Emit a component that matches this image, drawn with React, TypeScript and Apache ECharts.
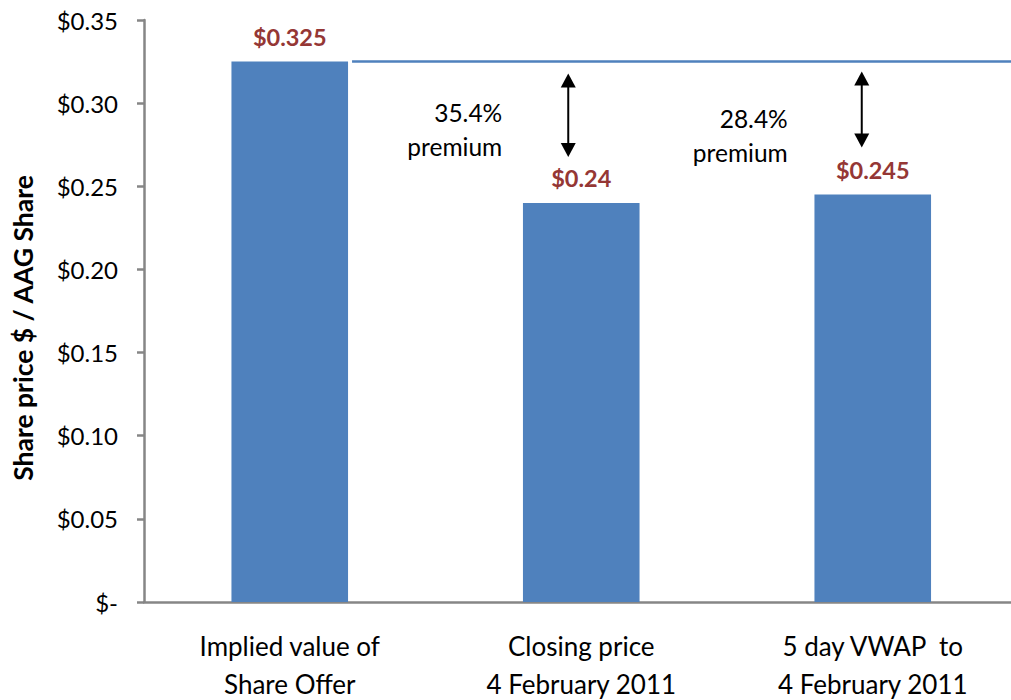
import React, { useEffect, useRef } from "react";
import * as echarts from "echarts";

const categories = [
  "Implied value of\nShare Offer",
  "Closing price\n4 February 2011",
  "5 day VWAP  to\n4 February 2011",
];
const values = [0.325, 0.24, 0.245];
const valueLabels = ["$0.325", "$0.24", "$0.245"];
const premiumLabels = ["35.4%", "28.4%"];
const yTicks = { min: 0, max: 0.35, interval: 0.05 };
const yAxisTitle = "Share price $ / AAG Share";

const FONT = "Lato, 'Noto Sans', sans-serif";
const BAR = "#4F81BD";
const LABEL_RED = "#953735";
const AXIS = "#868686";

export default function App() {
  const ref = useRef<HTMLDivElement>(null);
  useEffect(() => {
    if (!ref.current) return;
    const chart = echarts.init(ref.current, undefined, { renderer: "svg" });
    chart.setOption({
      animation: false,
      grid: {
        left: 144,
        top: 20,
        width: 874.5,
        bottom: 98,
        containLabel: false,
        outerBoundsMode: "none",
      },
      xAxis: {
        type: "category",
        data: categories,
        axisLine: { lineStyle: { color: AXIS, width: 2.5 } },
        axisTick: { length: 9, lineStyle: { color: AXIS, width: 2.5 } },
        axisLabel: {
          interval: 0,
          margin: 25,
          lineHeight: 38,
          fontFamily: FONT,
          fontSize: 26,
          color: "#000",
        },
      },
      yAxis: {
        type: "value",
        min: yTicks.min,
        max: yTicks.max,
        interval: yTicks.interval,
        splitLine: { show: false },
        axisLine: { show: true, lineStyle: { color: AXIS, width: 2.5 } },
        axisTick: { show: true, length: 7, lineStyle: { color: AXIS, width: 2.5 } },
        axisLabel: {
          margin: 26,
          fontFamily: FONT,
          fontSize: 24,
          color: "#000",
          formatter: (v: number) => (v === 0 ? "$-" : "$" + v.toFixed(2)),
        },
      },
      series: [
        {
          type: "bar",
          data: values,
          barWidth: "40%",
          itemStyle: { color: BAR },
          label: {
            show: true,
            position: "top",
            distance: 13,
            formatter: (p: any) => valueLabels[p.dataIndex],
            fontFamily: FONT,
            fontSize: 23.5,
            fontWeight: "bold",
            color: LABEL_RED,
          },
        },
      ],
    });

    const px = (i: number, v: number) =>
      chart.convertToPixel({ gridIndex: 0 }, [i, v]) as number[];
    const [c0, yTop] = px(0, values[0]);
    const catW = px(1, 0)[0] - c0;
    const barHalf = (catW * 0.4) / 2;
    const graphics: any[] = [
      {
        type: "line",
        shape: { x1: c0 + barHalf + 4, y1: yTop, x2: 1011, y2: yTop },
        style: { stroke: BAR, lineWidth: 2.5 },
      },
      {
        type: "text",
        x: 23,
        y: 328,
        rotation: Math.PI / 2,
        style: {
          text: yAxisTitle,
          align: "center",
          verticalAlign: "middle",
          fontFamily: FONT,
          fontSize: 26.5,
          fontWeight: "bold",
          fill: "#000",
        },
      },
    ];
    const arrowOffsets = [
      { dx: -13, top: 12, bottom: 46, textDx: -79, textDy: 68 },
      { dx: -11, top: 10, bottom: 47, textDx: -85, textDy: 74 },
    ];
    [1, 2].forEach((ci, k) => {
      const [cx, yv] = px(ci, values[ci]);
      const o = arrowOffsets[k];
      const ax = cx + o.dx;
      const t = yTop + o.top;
      const b = yv - o.bottom;
      const ah = 14;
      const aw = 7.5;
      graphics.push(
        {
          type: "line",
          shape: { x1: ax, y1: t + ah - 2, x2: ax, y2: b - ah + 2 },
          style: { stroke: "#000", lineWidth: 2 },
        },
        {
          type: "polygon",
          shape: { points: [[ax, t], [ax - aw, t + ah], [ax + aw, t + ah]] },
          style: { fill: "#000" },
        },
        {
          type: "polygon",
          shape: { points: [[ax, b], [ax - aw, b - ah], [ax + aw, b - ah]] },
          style: { fill: "#000" },
        },
        {
          type: "text",
          x: cx + o.textDx,
          y: yTop + o.textDy,
          style: {
            text: premiumLabels[k] + "\npremium",
            align: "right",
            verticalAlign: "middle",
            lineHeight: 34,
            fontFamily: FONT,
            fontSize: 24.5,
            fill: "#000",
          },
        }
      );
    });
    chart.setOption({ graphic: graphics });
    return () => chart.dispose();
  }, []);
  return (
    <div
      ref={ref}
      style={{ position: "absolute", left: 0, top: 0, width: 1011, height: 700 }}
    />
  );
}
